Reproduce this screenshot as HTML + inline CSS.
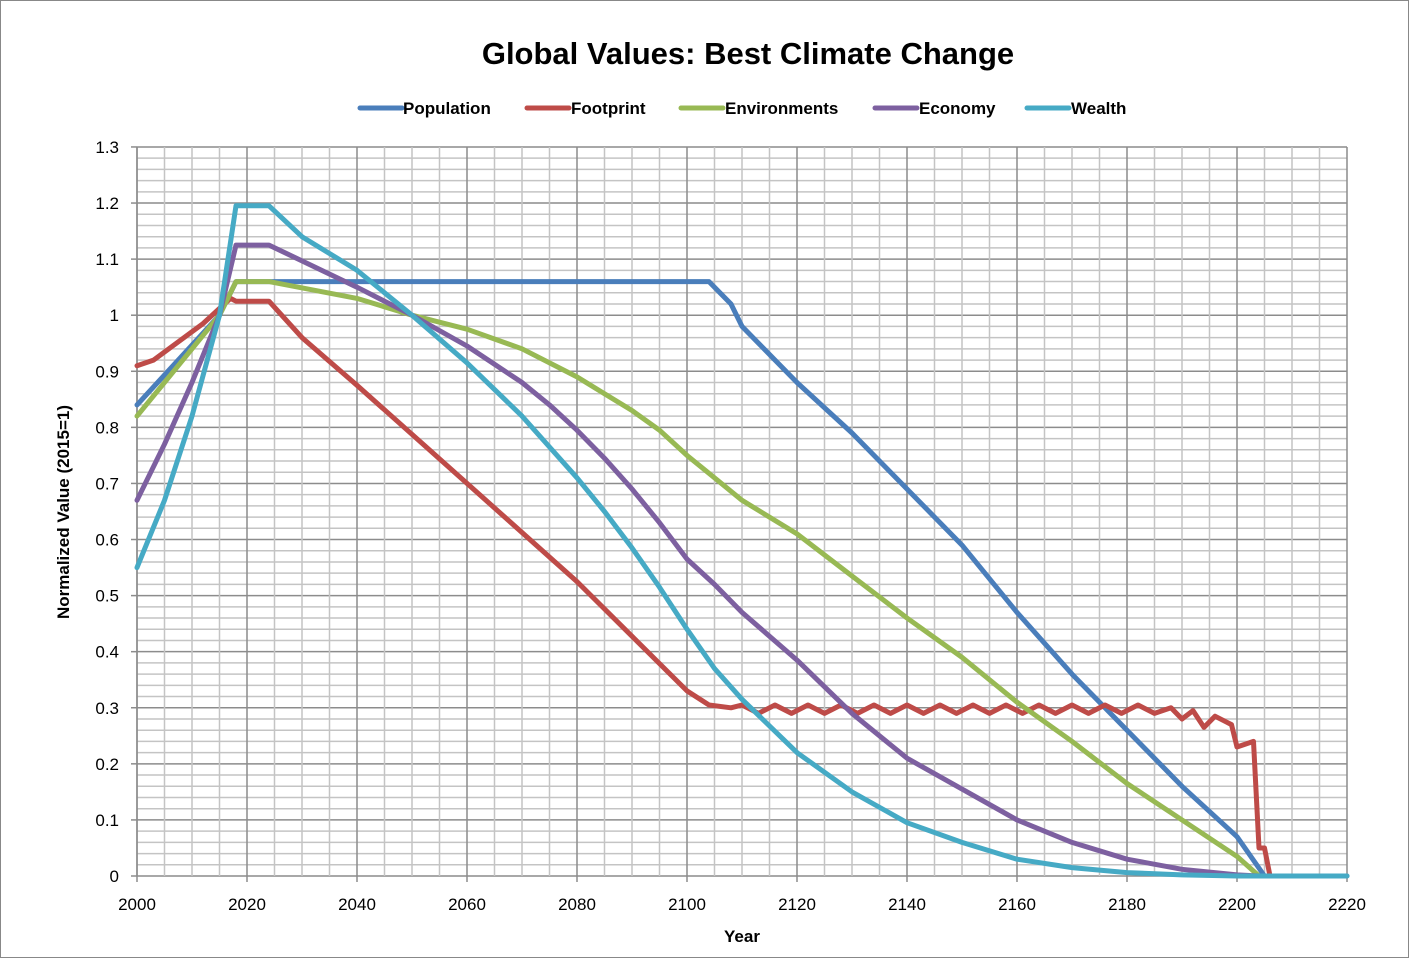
<!DOCTYPE html>
<html><head><meta charset="utf-8"><style>
html,body{margin:0;padding:0;background:#fff}
svg{display:block;font-family:"Liberation Sans",sans-serif}
</style></head><body>
<svg id="s" width="1409" height="958" viewBox="0 0 1409 958" xmlns="http://www.w3.org/2000/svg">
<rect x="0.5" y="0.5" width="1408" height="957" fill="#fff" stroke="#888"/>
<g id="grid"></g>
<g id="series" fill="none" stroke-width="5" stroke-linejoin="round" stroke-linecap="round"></g>
<text x="748" y="64" text-anchor="middle" font-size="31" font-weight="bold">Global Values: Best Climate Change</text>
<g font-size="17" font-weight="bold">
<line x1="360" y1="108" x2="402" y2="108" stroke="#4a7ebb" stroke-width="5" stroke-linecap="round"/><text x="403" y="114">Population</text>
<line x1="527" y1="108" x2="569" y2="108" stroke="#be4b48" stroke-width="5" stroke-linecap="round"/><text x="571" y="114">Footprint</text>
<line x1="681" y1="108" x2="723" y2="108" stroke="#98b954" stroke-width="5" stroke-linecap="round"/><text x="725" y="114">Environments</text>
<line x1="875" y1="108" x2="917" y2="108" stroke="#7d60a0" stroke-width="5" stroke-linecap="round"/><text x="919" y="114">Economy</text>
<line x1="1027" y1="108" x2="1069" y2="108" stroke="#46aac5" stroke-width="5" stroke-linecap="round"/><text x="1071" y="114">Wealth</text>
</g>
<text x="742" y="942" text-anchor="middle" font-size="17" font-weight="bold">Year</text>
<text transform="translate(69,512) rotate(-90)" text-anchor="middle" font-size="17" font-weight="bold">Normalized Value (2015=1)</text>
<g id="labels" font-size="17"></g>
</svg>
<script>
var X=function(y){return 137+(y-2000)*5.5},Y=function(v){return 876-v*560.8};
var g=document.getElementById('grid'),L=document.getElementById('labels'),h='',l='';
for(var i=0;i<=65;i++){var y=Y(i*0.02),maj=i%5==0;h+='<line x1="137" x2="1347" y1="'+y+'" y2="'+y+'" stroke="'+(maj?'#8c8c8c':'#c4c4c4')+'" stroke-width="1.5"/>';}
for(var yr=2000;yr<=2220;yr+=5){var x=X(yr),maj=yr%20==0;h+='<line y1="147" y2="876" x1="'+x+'" x2="'+x+'" stroke="'+(maj?'#8c8c8c':'#c4c4c4')+'" stroke-width="1.5"/>';
if(maj){h+='<line y1="876" y2="882" x1="'+x+'" x2="'+x+'" stroke="#8c8c8c" stroke-width="1.5"/>';l+='<text x="'+x+'" y="910" text-anchor="middle">'+yr+'</text>';}}
for(var i=0;i<=13;i++){var y=Y(i/10);h+='<line x1="131" x2="137" y1="'+y+'" y2="'+y+'" stroke="#8c8c8c" stroke-width="1.5"/>';var t=i==0?'0':i==10?'1':(i/10).toFixed(1);l+='<text x="119" y="'+(y+6)+'" text-anchor="end">'+t+'</text>';}
h+='<line x1="137" x2="137" y1="147" y2="876" stroke="#8c8c8c" stroke-width="1.5"/>';
g.innerHTML=h;L.innerHTML=l;
var D=[
['#4a7ebb',[[2000,.84],[2015,1],[2018,1.06],[2104,1.06],[2108,1.02],[2110,.98],[2120,.88],[2130,.79],[2140,.69],[2150,.59],[2160,.47],[2170,.36],[2180,.26],[2190,.16],[2200,.07],[2205,0],[2220,0]]],
['#98b954',[[2000,.82],[2015,1],[2018,1.06],[2024,1.06],[2040,1.03],[2050,1],[2060,.975],[2070,.94],[2080,.89],[2085,.86],[2090,.83],[2095,.795],[2100,.75],[2105,.71],[2110,.67],[2120,.61],[2130,.535],[2140,.46],[2150,.39],[2160,.31],[2170,.24],[2180,.165],[2190,.10],[2200,.035],[2204,0]]],
['#7d60a0',[[2000,.67],[2005,.77],[2010,.88],[2015,1],[2018,1.125],[2024,1.125],[2040,1.05],[2050,1],[2060,.945],[2070,.88],[2075,.84],[2080,.795],[2085,.745],[2090,.69],[2095,.63],[2100,.565],[2105,.52],[2110,.47],[2120,.385],[2130,.29],[2140,.21],[2150,.155],[2160,.10],[2170,.06],[2180,.03],[2190,.012],[2200,.002],[2204,0]]],
['#46aac5',[[2000,.55],[2005,.67],[2010,.82],[2015,1],[2018,1.195],[2024,1.195],[2030,1.14],[2040,1.08],[2050,1],[2060,.915],[2070,.82],[2075,.765],[2080,.71],[2085,.65],[2090,.585],[2095,.515],[2100,.44],[2105,.37],[2110,.315],[2120,.22],[2130,.15],[2140,.095],[2150,.06],[2160,.03],[2170,.015],[2180,.006],[2190,.002],[2200,0],[2220,0]]]
];
var fp=[[2000,.91],[2003,.92],[2012,.985],[2017,1.03],[2018,1.025],[2024,1.025],[2030,.96],[2040,.875],[2060,.70],[2080,.525],[2100,.33],[2104,.305],[2108,.3]];
for(var yr=2110;yr<=2185;yr+=3)fp.push([yr,yr%2==0?.305:.29]);
fp.push([2188,.3],[2190,.28],[2192,.295],[2194,.265],[2196,.285],[2198,.275],[2199,.27],[2200,.23],[2203,.24],[2204,.05],[2205,.05],[2206,0]);
D.splice(1,0,['#be4b48',fp]);
var s='';D.forEach(function(d){s+='<polyline stroke="'+d[0]+'" points="'+d[1].map(function(p){return X(p[0]).toFixed(1)+','+Y(p[1]).toFixed(1)}).join(' ')+'"/>';});
document.getElementById('series').innerHTML=s;
</script>
</body></html>
